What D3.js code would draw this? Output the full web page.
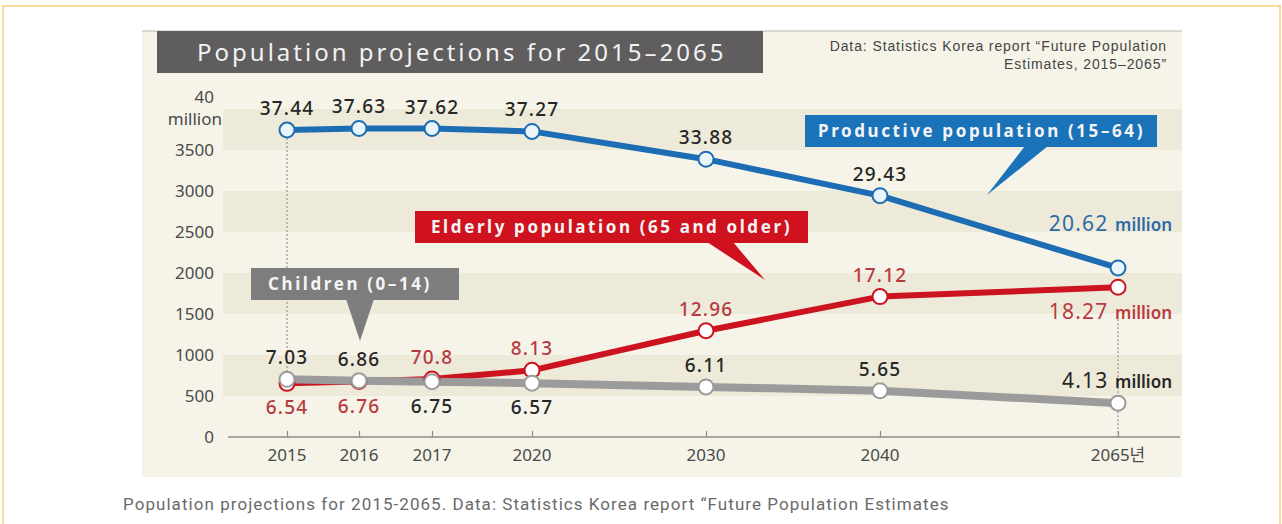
<!doctype html>
<html lang="en">
<head>
<meta charset="utf-8">
<title>Population projections for 2015-2065</title>
<script src="https://cdn.jsdelivr.net/npm/d3@7"></script>
<style>
  html, body { margin: 0; padding: 0; background: #fff; }
  svg { display: block; }
  .num { font-family: "Noto Sans", "Noto Sans CJK KR", sans-serif; }
</style>
</head>
<body>
<svg id="chart" width="1282" height="524"></svg>
<script>

// data (10,000 persons; labels in million)
var years = [2015, 2016, 2017, 2020, 2030, 2040, 2065];
var yearLabels = ["2015", "2016", "2017", "2020", "2030", "2040", "2065년"];
var productive = [3744, 3763, 3762, 3727, 3388, 2943, 2062];
var elderly = [654, 676, 708, 813, 1296, 1712, 1827];
var children = [703, 686, 675, 657, 611, 565, 413];
var productiveLabels = ["37.44", "37.63", "37.62", "37.27", "33.88", "29.43", "20.62"];
var elderlyLabels = ["6.54", "6.76", "70.8", "8.13", "12.96", "17.12", "18.27"];
var childrenLabels = ["7.03", "6.86", "6.75", "6.57", "6.11", "5.65", "4.13"];
var yTicks = [0, 500, 1000, 1500, 2000, 2500, 3000, 3500];

// label side for each point
var elderlySide = ["below", "below", "above", "above", "above", "above", "end"];
var childrenSide = ["above", "above", "below", "below", "above", "above", "end"];

var svg = d3.select("#chart");

// outer frame of the page
svg.append("rect").attr("x", 3).attr("y", 6).attr("width", 1277).attr("height", 540)
    .attr("fill", "#fff").attr("stroke", "#f8d99c").attr("stroke-width", 2);

// cream picture background
svg.append("rect").attr("x", 142).attr("y", 31).attr("width", 1040).attr("height", 446)
    .attr("fill", "#f6f4e8");
svg.append("line").attr("x1", 142).attr("x2", 1182).attr("y1", 31).attr("y2", 31)
    .attr("stroke", "#b9b7ad").attr("stroke-width", 1);

// x spacing of the original picture is not proportional to years
var xStops = [0, 72, 145, 245, 419, 593, 831];
var x = d3.scaleLinear().domain(years).range(xStops.map(function(s) { return 287 + s; }));
var y = d3.scaleLinear().domain([0, 4000]).range([437, 109]);

// alternating bands
var bands = [500, 1500, 2500, 3500];
svg.append("g").selectAll("rect").data(bands).enter().append("rect")
    .attr("x", 223).attr("width", 959)
    .attr("y", function(d) { return y(d + 500); })
    .attr("height", function(d) { return y(d) - y(d + 500); })
    .attr("fill", "#eeead9");

// title box
svg.append("rect").attr("x", 157).attr("y", 31).attr("width", 606).attr("height", 42)
    .attr("fill", "#5f5d5e");
svg.append("text").attr("x", 197).attr("y", 61)
    .attr("class", "num")
    .style("font-size", "24px").style("letter-spacing", "3px")
    .attr("fill", "#f2f2f2")
    .text("Population projections for 2015\u20132065");

// source
var src = svg.append("text").attr("text-anchor", "end")
    .style("font-family", "'Liberation Sans', Arial, sans-serif").style("font-size", "14px")
    .style("letter-spacing", "0.9px")
    .attr("fill", "#444");
src.append("tspan").attr("x", 1167).attr("y", 51).text("Data: Statistics Korea report \u201cFuture Population");
src.append("tspan").attr("x", 1167).attr("y", 69).text("Estimates, 2015\u20132065\u201d");

// y axis labels
var yAxis = svg.append("g").attr("transform", "translate(214,0)")
    .call(d3.axisLeft(y).tickValues(yTicks).tickSize(0).tickPadding(0).tickFormat(d3.format("d")));
yAxis.select(".domain").remove();
yAxis.selectAll("text").attr("class", "num")
    .style("font-size", "17px").attr("fill", "#4a4a4a");
svg.append("text").attr("class", "num").attr("x", 214).attr("y", 103).attr("text-anchor", "end")
    .style("font-size", "17px").attr("fill", "#4a4a4a").text("40");
svg.append("text").attr("class", "num").attr("x", 222).attr("y", 125).attr("text-anchor", "end")
    .style("font-size", "17px").attr("fill", "#4a4a4a").text("million");

// x axis
var xAxis = svg.append("g").attr("transform", "translate(0,437)")
    .call(d3.axisTop(x).tickValues(years).tickSize(6).tickFormat(""));
xAxis.select(".domain").attr("d", "M228,0H1180").attr("stroke", "#8c8c8c").attr("stroke-width", 1.5);
xAxis.selectAll(".tick line").attr("stroke", "#8c8c8c").attr("stroke-width", 1.2);
svg.append("g").selectAll("text").data(years).enter().append("text")
    .attr("class", "num")
    .attr("x", function(d) { return x(d); })
    .attr("y", 461)
    .attr("text-anchor", "middle")
    .style("font-size", "17px").attr("fill", "#4a4a4a")
    .text(function(d, i) { return yearLabels[i]; });

// dotted guides
svg.append("line").attr("x1", x(2015)).attr("x2", x(2015))
    .attr("y1", y(productive[0]) + 8).attr("y2", y(children[0]) - 8)
    .attr("stroke", "#9a9a9a").attr("stroke-width", 1.3).attr("stroke-dasharray", "2,2");
svg.append("line").attr("x1", x(2065)).attr("x2", x(2065))
    .attr("y1", y(elderly[6]) + 32).attr("y2", 437)
    .attr("stroke", "#9a9a9a").attr("stroke-width", 1.3).attr("stroke-dasharray", "2,2");

// callouts
function callout(x0, y0, w, h, tail, fill, label, tx) {
    var g = svg.append("g");
    g.append("rect").attr("x", x0).attr("y", y0).attr("width", w).attr("height", h).attr("fill", fill);
    g.append("path").attr("d", "M" + tail.join("L") + "Z").attr("fill", fill);
    g.append("text").attr("x", tx).attr("y", y0 + h / 2 + 6)
        .attr("class", "num")
        .style("font-size", "17px").style("font-weight", "bold").style("letter-spacing", "2.6px")
        .attr("fill", "#f4f4f4").text(label);
}
callout(805, 115, 352, 32, [[1025, 146], [1048, 146], [987, 195]], "#1a73b9", "Productive population (15\u201364)", 818);
callout(415, 211, 393, 32, [[707, 242], [733, 242], [765, 280]], "#d0121f", "Elderly population (65 and older)", 431);
callout(251, 268, 208, 32, [[346, 299], [374, 299], [360, 341]], "#7d7d7d", "Children (0\u201314)", 268);

// lines
var line = d3.line()
    .x(function(d, i) { return x(years[i]); })
    .y(function(d) { return y(d); });

var series = [
    {values: elderly, color: "#cc1420", width: 6, fill: "#fff"},
    {values: children, color: "#9b9b9b", width: 8, fill: "#fff"},
    {values: productive, color: "#1c6db3", width: 6, fill: "#e9f5fb"}
];

series.forEach(function(s) {
    svg.append("path").datum(s.values)
        .attr("d", line)
        .attr("fill", "none")
        .attr("stroke", s.color)
        .attr("stroke-width", s.width)
        .attr("stroke-linejoin", "round");
});
series.forEach(function(s) {
    svg.append("g").selectAll("circle").data(s.values).enter().append("circle")
        .attr("cx", function(d, i) { return x(years[i]); })
        .attr("cy", function(d) { return y(d); })
        .attr("r", 7.5)
        .attr("fill", s.fill)
        .attr("stroke", s.color)
        .attr("stroke-width", 2);
});

// value labels
function labels(values, texts, sides, color) {
    svg.append("g").selectAll("text").data(values).enter()
        .filter(function(d, i) { return sides[i] !== "end"; })
        .append("text")
        .attr("class", "num")
        .attr("x", function(d) { return x(years[values.indexOf(d)]); })
        .attr("y", function(d) {
            var i = values.indexOf(d);
            return y(d) + (sides[i] === "above" ? -15 : 31);
        })
        .attr("text-anchor", "middle")
        .style("font-size", "19px").style("font-weight", "500").style("letter-spacing", "1.2px")
        .attr("fill", color)
        .text(function(d) { return texts[values.indexOf(d)]; });
}
var prodSide = productive.map(function(d, i) { return i < 6 ? "above" : "end"; });
labels(productive, productiveLabels, prodSide, "#262626");
labels(elderly, elderlyLabels, elderlySide, "#b83a40");
labels(children, childrenLabels, childrenSide, "#262626");

// end labels with "million"
function endLabel(yPos, txt, color) {
    var t = svg.append("text").attr("class", "num").attr("x", 1172).attr("y", yPos)
        .attr("text-anchor", "end").attr("fill", color);
    t.append("tspan").style("font-size", "21px").style("letter-spacing", "1.2px").text(txt + " ");
    t.append("tspan").style("font-size", "17px").style("font-weight", "600").text("million");
}
endLabel(y(productive[6]) - 37, productiveLabels[6], "#2c6aa6");
endLabel(y(elderly[6]) + 32, elderlyLabels[6], "#b83a40");
endLabel(y(children[6]) - 15, childrenLabels[6], "#262626");

// caption
svg.append("text").attr("x", 123).attr("y", 510)
    .style("font-family", "Roboto, 'Open Sans', sans-serif").style("font-size", "17px")
    .style("letter-spacing", "1.05px")
    .attr("fill", "#6a6a6a")
    .text("Population projections for 2015-2065. Data: Statistics Korea report \u201cFuture Population Estimates");

</script>
</body>
</html>
